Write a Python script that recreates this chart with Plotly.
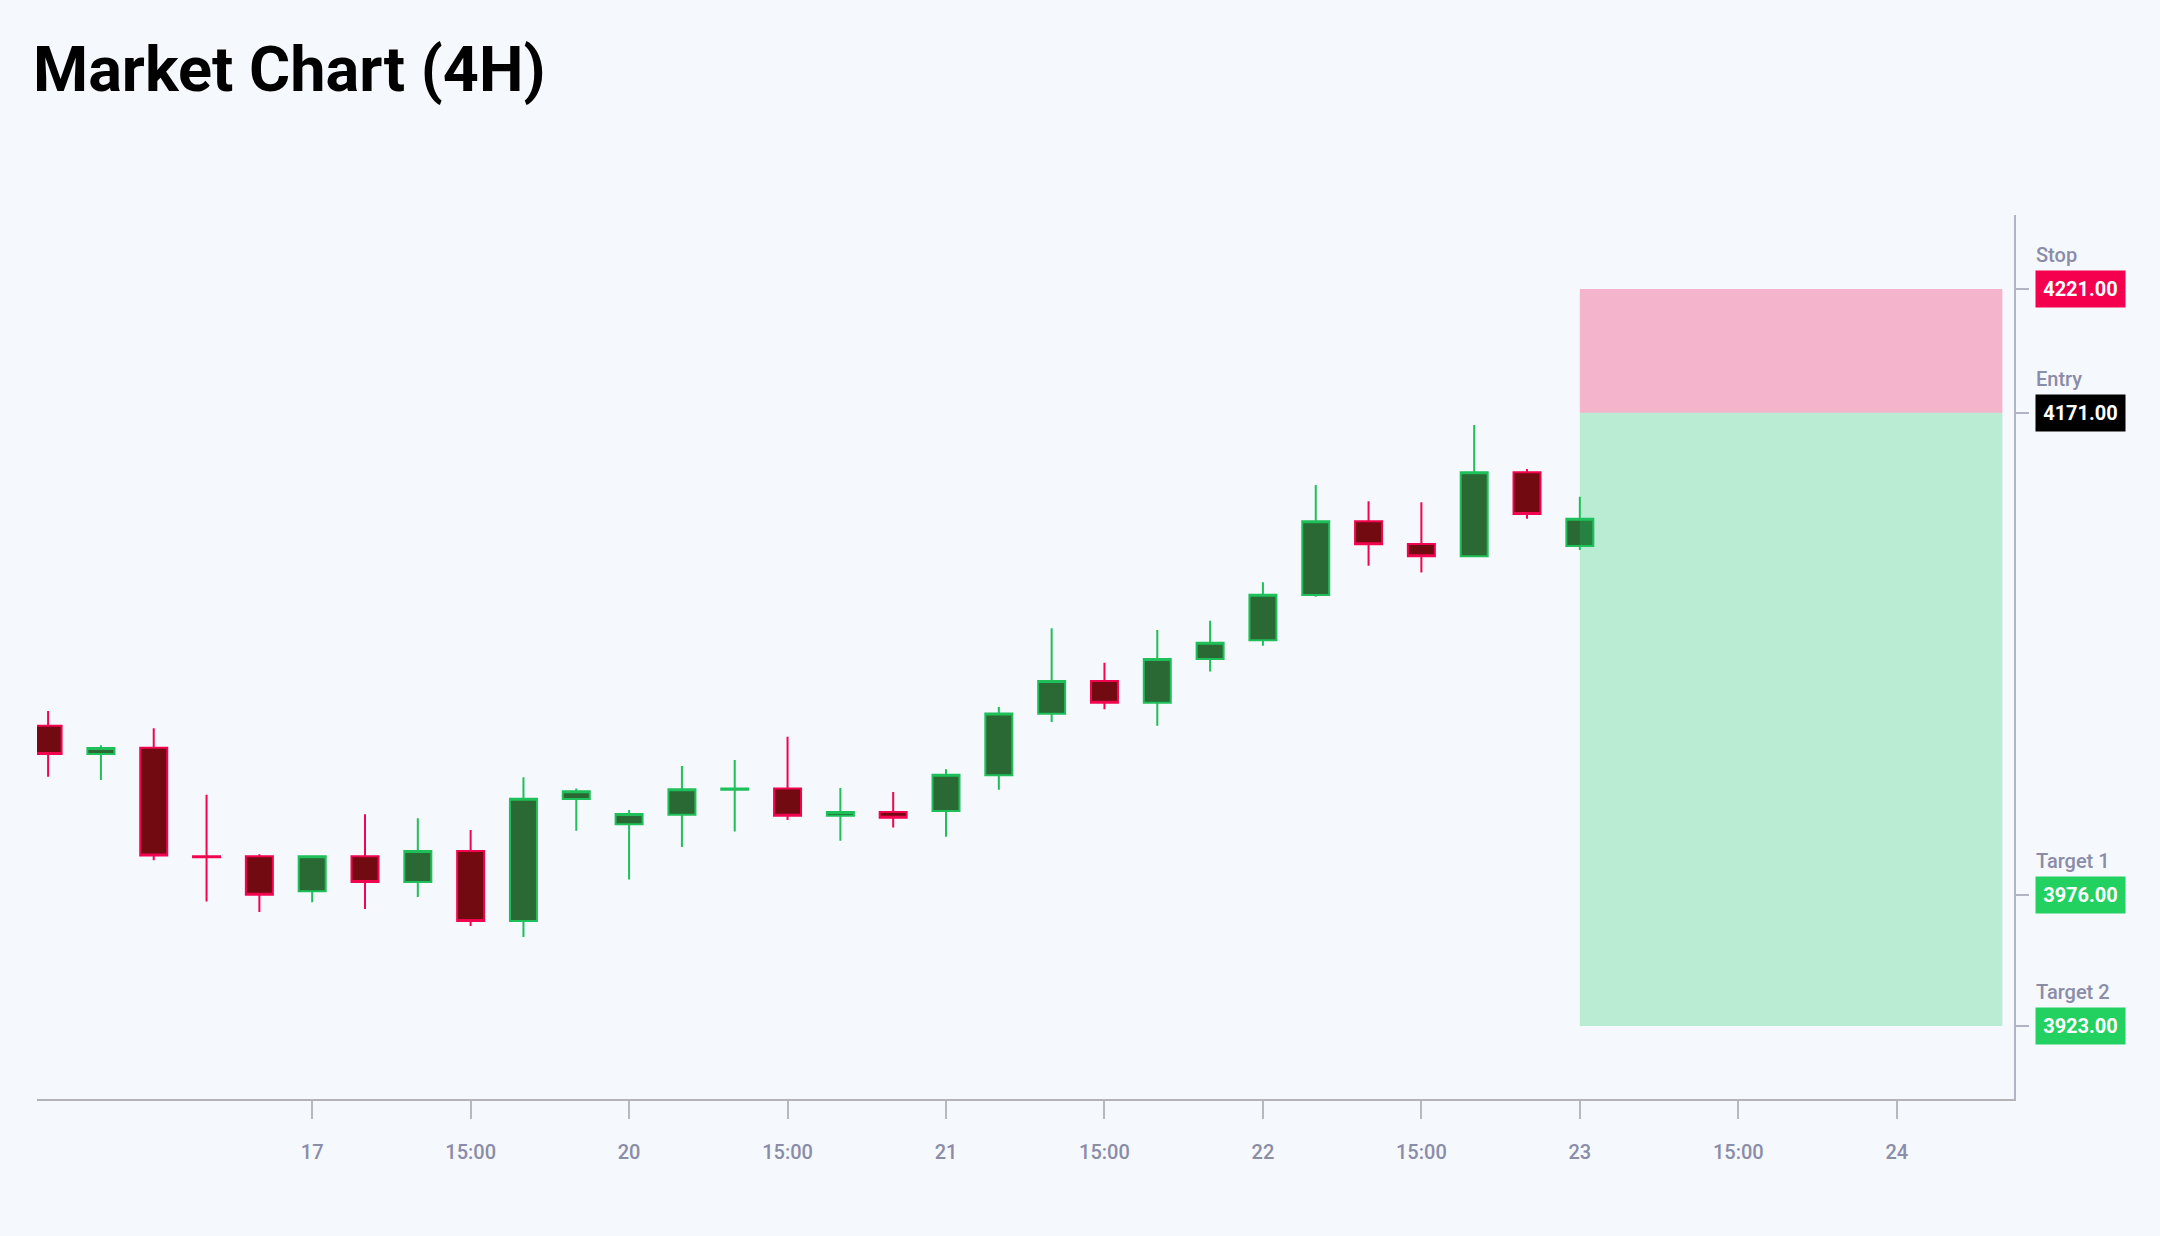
import plotly.graph_objects as go

# 4H candles, index based x axis
candle_idx = list(range(30))
opens = [4044.4, 4033.0, 4035.5, 3991.6, 3991.6, 3977.5, 3991.6, 3981.2, 3993.8, 3965.5,
         4014.8, 4004.6, 4008.4, 4018.5, 4019.0, 4008.0, 4009.5, 4009.9, 4024.4, 4049.3,
         4062.5, 4053.7, 4071.4, 4079.0, 4097.3, 4127.1, 4117.9, 4112.9, 4146.9, 4117.1]
highs = [4050.4, 4036.5, 4043.4, 4016.5, 3992.5, 3991.6, 4008.6, 4007.0, 4002.3, 4023.6,
         4019.0, 4010.3, 4028.1, 4030.6, 4040.0, 4019.2, 4017.6, 4026.8, 4052.0, 4083.8,
         4069.9, 4083.1, 4086.9, 4102.4, 4141.7, 4135.2, 4134.8, 4166.0, 4148.2, 4137.0]
lows = [4023.8, 4022.5, 3990.0, 3973.3, 3969.1, 3973.0, 3970.3, 3975.2, 3963.4, 3959.0,
        4002.0, 3982.2, 3995.4, 4001.6, 4006.3, 3997.9, 4003.3, 3999.5, 4018.5, 4045.9,
        4051.1, 4044.4, 4066.3, 4076.7, 4096.6, 4109.1, 4106.4, 4112.5, 4128.1, 4115.5]
closes = [4033.0, 4035.4, 3991.9, 3991.2, 3976.1, 3991.6, 3981.2, 3993.8, 3965.5, 4014.9,
          4017.9, 4008.7, 4018.7, 4019.0, 4008.0, 4009.5, 4007.2, 4024.6, 4049.4, 4062.5,
          4053.7, 4071.4, 4078.0, 4097.4, 4127.1, 4117.8, 4112.9, 4146.9, 4130.0, 4128.1]

tick_vals = [5, 8, 11, 14, 17, 20, 23, 26, 29, 32, 35]
tick_text = ["17", "15:00", "20", "15:00", "21", "15:00", "22", "15:00", "23", "15:00", "24"]

# trade plan
level_names = ["Stop", "Entry", "Target 1", "Target 2"]
level_prices = [4221.0, 4171.0, 3976.0, 3923.0]
level_colors = ["#f5004f", "#000000", "#22d160", "#22d160"]
zone_start = 29
zone_end = 37

BG = "#f5f8fd"
GREY = "#8a8ca8"

fig = go.Figure()

fig.add_trace(go.Candlestick(
    x=candle_idx, open=opens, high=highs, low=lows, close=closes,
    increasing=dict(line=dict(color="#1fbf5a", width=2), fillcolor="#2a6934"),
    decreasing=dict(line=dict(color="#f2054f", width=2), fillcolor="#720a12"),
    whiskerwidth=0,
    showlegend=False,
))

# risk / reward zones
fig.add_shape(type="rect", x0=zone_start, x1=zone_end, y0=level_prices[1], y1=level_prices[0],
              fillcolor="rgba(240,5,80,0.28)", line_width=0, layer="above")
fig.add_shape(type="rect", x0=zone_start, x1=zone_end, y0=level_prices[3], y1=level_prices[1],
              fillcolor="rgba(30,200,100,0.27)", line_width=0, layer="above")

for name, price, col in zip(level_names, level_prices, level_colors):
    fig.add_annotation(xref="paper", x=1, xshift=21, xanchor="left",
                       yref="y", y=price, yanchor="middle",
                       text="<b>%.2f</b>" % price, showarrow=False,
                       bgcolor=col, width=87, height=34, align="center",
                       font=dict(family="Roboto", size=20, color="white"))
    fig.add_annotation(xref="paper", x=1, xshift=20, xanchor="left",
                       yref="y", y=price, yshift=34, yanchor="middle",
                       text=name, showarrow=False,
                       font=dict(family="Roboto", size=20, color=GREY, weight=500))

fig.update_layout(
    width=2160, height=1236,
    paper_bgcolor=BG, plot_bgcolor=BG,
    margin=dict(l=37, r=146, t=215, b=137),
    boxgap=0.27,
    title=dict(text="<b>Market Chart (4H)</b>", x=33 / 2160, xanchor="left",
               xref="container", yref="container", y=1 - 69 / 1236, yanchor="middle",
               font=dict(family="Roboto", size=63, color="#000000")),
    xaxis=dict(range=[-0.21, 37.22], rangeslider=dict(visible=False),
               tickvals=tick_vals, ticktext=tick_text,
               showgrid=False, zeroline=False,
               showline=True, linecolor="#b4b4b8", linewidth=2,
               ticks="outside", ticklen=18, tickwidth=1.5, tickcolor="#b8b8c0",
               ticklabelstandoff=16,
               tickfont=dict(family="Roboto", size=20, color=GREY, weight=500)),
    yaxis=dict(range=[3893.5, 4250.9], side="right",
               tickvals=level_prices, showticklabels=False,
               showgrid=False, zeroline=False,
               showline=True, linecolor="#b0b4c4", linewidth=2,
               ticks="outside", ticklen=13, tickwidth=2, tickcolor="#b0b4c4"),
    hovermode=False,
)

fig.write_html("out.html", config={"displayModeBar": False},
               post_script="document.body.style.margin='0';")
